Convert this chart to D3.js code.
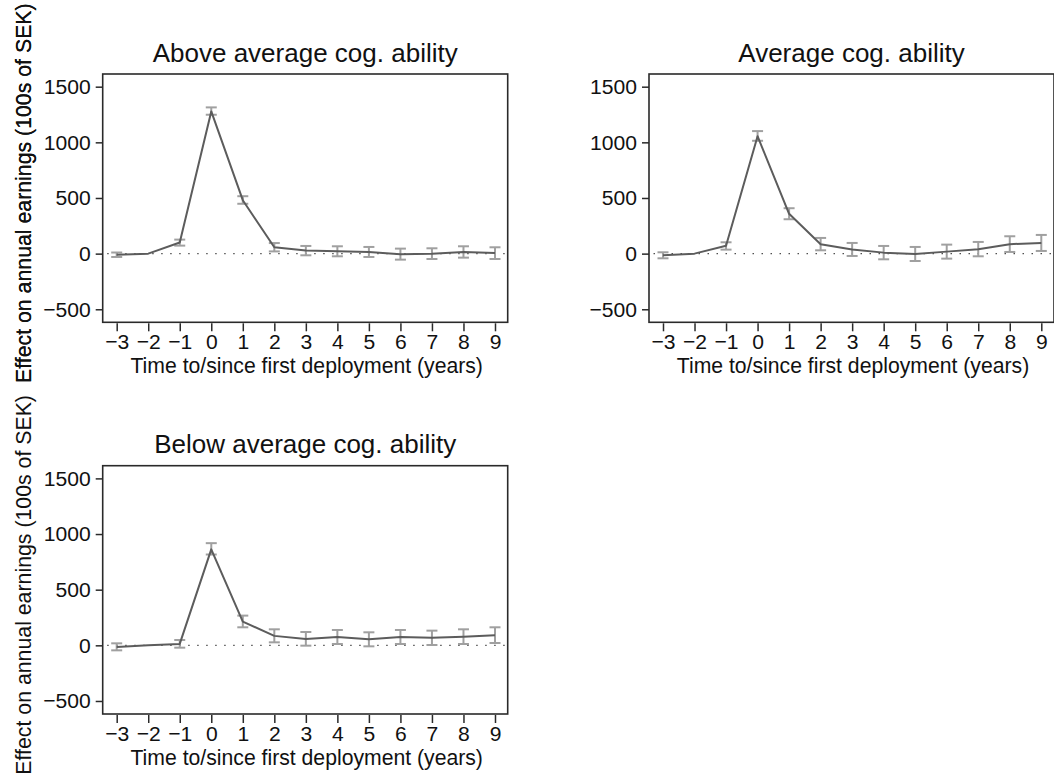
<!DOCTYPE html>
<html>
<head>
<meta charset="utf-8">
<script src="https://cdn.jsdelivr.net/npm/d3@7/dist/d3.min.js"></script>
<style>
  html, body { margin: 0; padding: 0; background: #fff; }
  svg { display: block; }
  text { font-family: "Liberation Sans", Arial, Helvetica, sans-serif; fill: #111; }
</style>
</head>
<body>
<svg id="chart" width="1054" height="779"></svg>
<script>
// ---- data ----
const years = [-3, -2, -1, 0, 1, 2, 3, 4, 5, 6, 7, 8, 9];
const xTicks = [-3, -2, -1, 0, 1, 2, 3, 4, 5, 6, 7, 8, 9];
const yTicks = [-500, 0, 500, 1000, 1500];

const panelTitles = ["Above average cog. ability", "Average cog. ability", "Below average cog. ability"];
const yTitle = "Effect on annual earnings (100s of SEK)";
const xTitle = "Time to/since first deployment (years)";

const aboveEst = [-10, 0, 100, 1278, 480, 57, 28, 21, 15, -5, 0, 15, 5];
const aboveLo  = [-30, null, 72, 1248, 448, 20, -15, -24, -30, -54, -48, -36, -48];
const aboveHi  = [10, null, 126, 1314, 516, 95, 69, 66, 60, 45, 48, 66, 57];

const averageEst = [-15, 0, 70, 1055, 358, 85, 38, 9, -3, 18, 40, 85, 96];
const averageLo  = [-42, null, 36, 1014, 309, 30, -21, -51, -66, -45, -24, 15, 24];
const averageHi  = [12, null, 102, 1101, 408, 141, 96, 69, 60, 81, 105, 156, 168];

const belowEst = [-15, 0, 13, 862, 213, 85, 57, 75, 54, 75, 67, 78, 91];
const belowLo  = [-45, null, -21, 816, 162, 27, -3, 12, -9, 12, 3, 12, 21];
const belowHi  = [18, null, 48, 918, 267, 144, 120, 138, 117, 138, 132, 144, 162];

// ---- layout ----
const svg = d3.select("#chart");
const boxW = 405, boxH = 248.3;
const panels = [
  { title: panelTitles[0], est: aboveEst, lo: aboveLo, hi: aboveHi, left: 102.7, top: 74 },
  { title: panelTitles[1], est: averageEst, lo: averageLo, hi: averageHi, left: 649, top: 74 },
  { title: panelTitles[2], est: belowEst, lo: belowLo, hi: belowHi, left: 102.7, top: 465.7 }
];

const x = d3.scaleLinear().domain([-3.444, 9.403]).range([0, boxW]);
const y = d3.scaleLinear().domain([-617, 1614]).range([boxH, 0]);

const lineColor = "#5c5c5c";
const ciColor = "#a0a0a0";
const axisColor = "#2a2a2a";

panels.forEach(p => {
  const g = svg.append("g").attr("transform", `translate(${p.left},${p.top})`);

  // zero reference line (dotted)
  g.append("line")
    .attr("x1", x(-3.3)).attr("x2", x(9.35))
    .attr("y1", y(0)).attr("y2", y(0))
    .attr("stroke", "#444").attr("stroke-width", 1.4)
    .attr("stroke-dasharray", "1.4 7.6");

  // error bars
  const ci = years.map((yr, i) => ({ yr, lo: p.lo[i], hi: p.hi[i] })).filter(d => d.lo !== null);
  const capHalf = 5.5;
  const eg = g.append("g").attr("stroke", ciColor).attr("stroke-width", 2).attr("fill", "none");
  ci.forEach(d => {
    eg.append("line").attr("x1", x(d.yr)).attr("x2", x(d.yr)).attr("y1", y(d.lo)).attr("y2", y(d.hi));
    eg.append("line").attr("x1", x(d.yr) - capHalf).attr("x2", x(d.yr) + capHalf).attr("y1", y(d.lo)).attr("y2", y(d.lo));
    eg.append("line").attr("x1", x(d.yr) - capHalf).attr("x2", x(d.yr) + capHalf).attr("y1", y(d.hi)).attr("y2", y(d.hi));
  });

  // estimate line
  const line = d3.line().x((d, i) => x(years[i])).y(d => y(d));
  g.append("path").datum(p.est)
    .attr("d", line)
    .attr("fill", "none").attr("stroke", lineColor).attr("stroke-width", 2)
    .attr("stroke-linejoin", "round");

  // plot box
  g.append("rect").attr("x", 0).attr("y", 0).attr("width", boxW).attr("height", boxH)
    .attr("fill", "none").attr("stroke", axisColor).attr("stroke-width", 1.6);

  // y axis
  const ya = g.append("g")
    .call(d3.axisLeft(y).tickValues(yTicks).tickSize(7).tickPadding(5).tickFormat(d3.format("d")));
  ya.select(".domain").remove();
  ya.selectAll(".tick line").attr("stroke", axisColor).attr("stroke-width", 1.5);
  ya.selectAll(".tick text").attr("font-size", 21.1).attr("font-family", "Liberation Sans, Arial, sans-serif").attr("fill", "#111");

  // x axis
  const xa = g.append("g").attr("transform", `translate(0,${boxH + 1})`)
    .call(d3.axisBottom(x).tickValues(xTicks).tickSize(8).tickPadding(3).tickFormat(d3.format("d")));
  xa.select(".domain").remove();
  xa.selectAll(".tick line").attr("stroke", axisColor).attr("stroke-width", 1.5);
  xa.selectAll(".tick text").attr("font-size", 21.1).attr("font-family", "Liberation Sans, Arial, sans-serif").attr("fill", "#111");

  // title
  g.append("text").attr("x", boxW / 2).attr("y", -12.5)
    .attr("text-anchor", "middle").attr("font-size", 26).text(p.title);

  // y title
  g.append("text")
    .attr("transform", `translate(${30.5 - p.left},${boxH / 2 - 5}) rotate(-90)`)
    .attr("text-anchor", "middle").attr("font-size", 21.3).text(yTitle);

  // x title
  g.append("text").attr("x", boxW / 2 + 1.5).attr("y", boxH + 51)
    .attr("text-anchor", "middle").attr("font-size", 21.2).text(xTitle);
});
</script>
</body>
</html>
